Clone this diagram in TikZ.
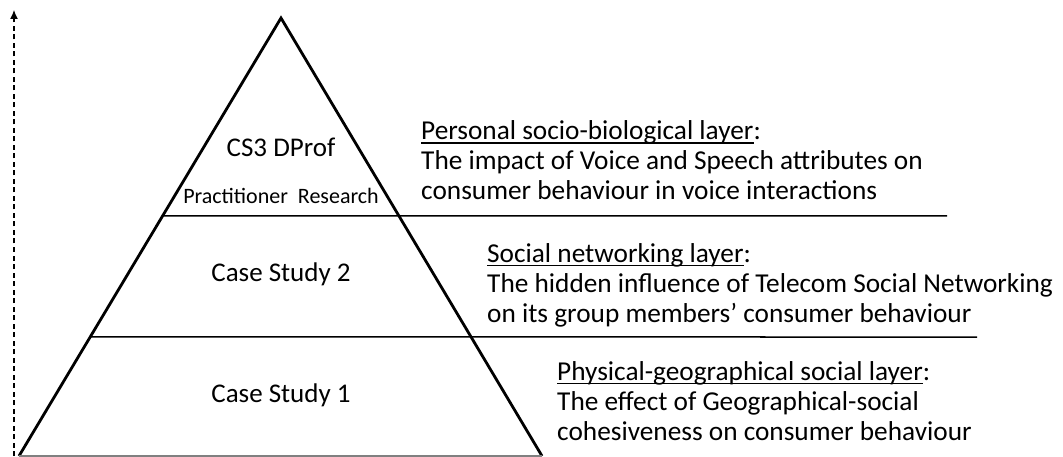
\documentclass[tikz,border=0pt]{standalone}
\usepackage{fontspec}
\setmainfont{Carlito}
\usetikzlibrary{arrows.meta, calc, positioning}
\newsavebox{\headbox}
\newcommand{\layerhead}[1]{\sbox\headbox{#1}\rlap{\rule[-4pt]{\wd\headbox}{1.5pt}}\usebox\headbox}

\begin{document}
\begin{tikzpicture}[x=1pt, y=-1pt]
      \useasboundingbox (0, 0) rectangle (1063, 457);
      \tikzset{
        stagetext/.style={font=\fontsize{27}{30}\selectfont, anchor=base, inner sep=0pt},
        layertext/.style={font=\fontsize{27.3}{30}\selectfont, align=left, anchor=base west, inner sep=0pt},
        divider/.style={line width=1.5pt}
      }

      \coordinate (apex) at (281, 18);
      \coordinate (bl) at (19, 456);
      \coordinate (br) at (542, 456);

      % pyramid
      \draw[line width=2.8pt, line join=miter] (bl) -- (apex) -- (br);
      \draw[gray, line width=1.2pt] (bl) -- (br);

      % dashed axis
      \coordinate (axisbot) at (14, 456);
      \coordinate (axistop) at (14, 10);
      \draw[line width=1.2pt, dash pattern=on 5pt off 3.5pt, -{Latex[length=9pt, width=8pt]}] (axisbot) -- (axistop);

      % dividers
      \coordinate (d1) at ($(apex)!{198/438}!(bl)$);
      \coordinate (d1end) at (947, 216);
      \coordinate (d2) at ($(apex)!{319/438}!(bl)$);
      \coordinate (d2end) at (977, 337);
      \draw[divider] (d1) -- (d1end);
      \draw[divider] (d2) -- (d2end);

      % labels inside the pyramid
      \node[stagetext] (cs3) at (281, 157) {CS3 DProf};
      \node[stagetext, font=\fontsize{22}{26}\selectfont] (prac) at (281, 204) {Practitioner\ \ Research};
      \node[stagetext] (cs2) at (281, 281) {Case Study 2};
      \node[stagetext] (cs1) at (281, 402) {Case Study 1};

      % layer descriptions
      \node[layertext] (personal) at (421, 200) {\layerhead{Personal socio-biological layer}:\\
        The impact of Voice and Speech attributes on\\
        consumer behaviour in voice interactions};
      \node[layertext] (social) at (487, 322) {\layerhead{Social networking layer}:\\
        The hidden influence of Telecom Social Networking\\
        on its group members’ consumer behaviour};
      \node[layertext] (physical) at (557, 440) {\layerhead{Physical-geographical social layer}:\\
        The effect of Geographical-social\\
        cohesiveness on consumer behaviour};
    \end{tikzpicture}
\end{document}
